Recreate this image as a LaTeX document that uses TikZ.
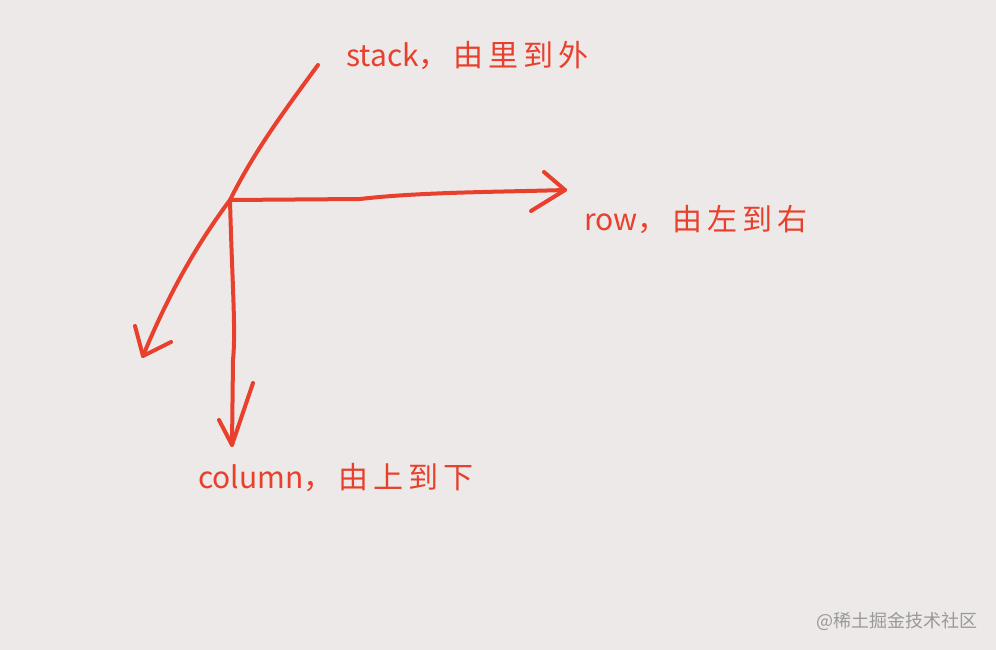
\documentclass[tikz,border=0pt]{standalone}
\usepackage{fontspec}
\setmainfont{Noto Sans CJK SC}
\definecolor{bg}{HTML}{ECE9E8}
\definecolor{pen}{HTML}{E8402C}
\definecolor{wm}{HTML}{9A9898}
\begin{document}
\begin{tikzpicture}[x=1pt,y=-1pt,
  stroke/.style={draw=pen,line width=4pt,line cap=round,line join=round},
  lbl/.style={text=pen,font=\fontsize{30}{32}\selectfont,anchor=west,inner sep=0pt}]
\fill[bg] (0,0) rectangle (996,650);
\useasboundingbox (0,0) rectangle (996,650);
\coordinate (o) at (230,200);
\coordinate (s0) at (318,65);
\coordinate (sE) at (143,356);
\coordinate (rE) at (565,190);
\coordinate (cE) at (232,445);
% stack line
\draw[stroke] (s0) .. controls (285,110) and (255,150) .. (o)
  .. controls (200,240) and (170,290) .. (sE);
\draw[stroke] (135,326) -- (sE) -- (171,342);
% row line
\draw[stroke] (o) -- (360,199) .. controls (420,192) and (500,192) .. (rE);
\draw[stroke] (544,172) -- (rE) -- (531,211);
% column line
\draw[stroke] (o) .. controls (232,280) and (236,330) .. (233,360) -- (cE);
\draw[stroke] (219,420) -- (cE) -- (253,383);
\node[lbl] (ts) at (346,55) {stack，\,由\,里\,到\,外};
\node[lbl] (tr) at (584,220) {row，\,由\,左\,到\,右};
\node[lbl] (tc) at (198,478) {column，\,由\,上\,到\,下};
\node[text=wm,font=\fontsize{18}{20}\selectfont,anchor=east,inner sep=0pt] (w) at (978,621) {@稀土掘金技术社区};
\end{tikzpicture}
\end{document}
